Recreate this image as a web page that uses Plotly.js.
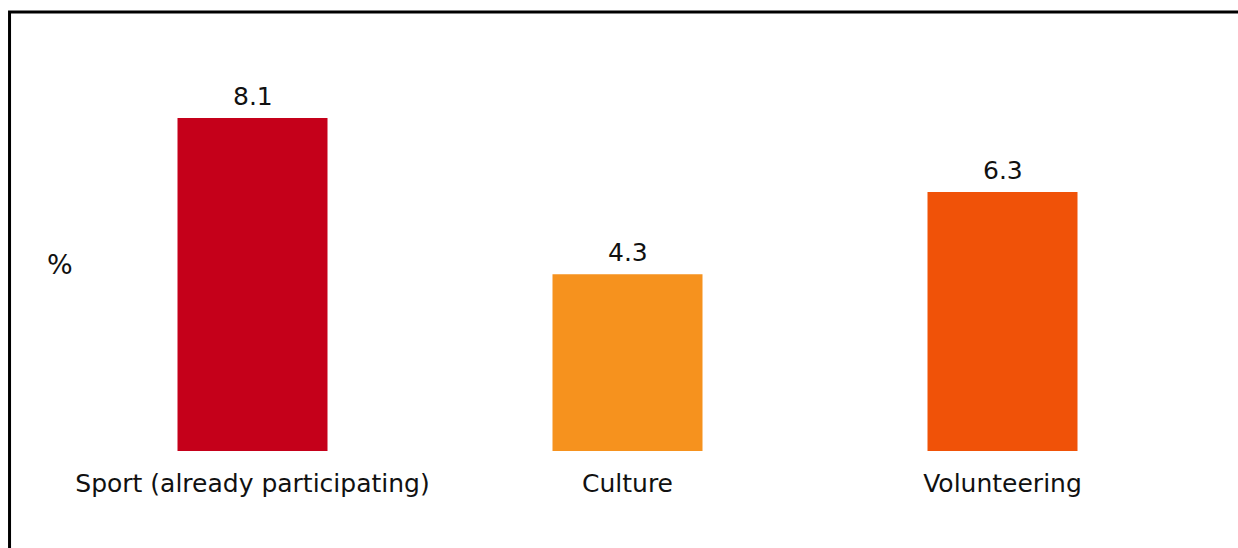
<!DOCTYPE html>
<html>
<head>
<meta charset="utf-8">
<script src="https://cdn.plot.ly/plotly-3.0.1.min.js"></script>
<style>html,body{margin:0;padding:0;background:#fff;}#chart{width:1238px;height:548px;}</style>
</head>
<body>
<div id="chart"></div>
<script>
const categories = ["Sport (already participating)", "Culture", "Volunteering"];
const values = [8.1, 4.3, 6.3];
const valueLabels = ["8.1", "4.3", "6.3"];
const barColors = ["#C5001A", "#F6921E", "#F05208"];
const yAxisLabel = "%";

const FONT = "DejaVu Sans, Verdana, sans-serif";
const TXT = "#111";

const trace = {
  type: "bar",
  x: categories,
  y: values,
  marker: {color: barColors, line: {width: 0}},
  hoverinfo: "skip"
};

const valueAnnotations = categories.map((c, i) => ({
  x: c, y: values[i], xref: "x", yref: "y",
  text: valueLabels[i],
  showarrow: false,
  xanchor: "center", yanchor: "bottom",
  yshift: 5,
  font: {family: FONT, size: 25, color: TXT}
}));

const layout = {
  width: 1238,
  height: 548,
  margin: {l: 65, r: 48, t: 48, b: 97},
  paper_bgcolor: "#fff",
  plot_bgcolor: "#fff",
  showlegend: false,
  bargap: 0.6,
  font: {family: FONT, size: 25, color: TXT},
  xaxis: {
    type: "category",
    showgrid: false, zeroline: false, showline: false,
    ticks: "",
    ticklabelstandoff: 15,
    tickfont: {family: FONT, size: 25, color: TXT},
    fixedrange: true
  },
  yaxis: {
    range: [0, 9.8],
    showgrid: false, zeroline: false, showline: false,
    showticklabels: false, ticks: "",
    fixedrange: true
  },
  annotations: valueAnnotations.concat([{
    text: yAxisLabel,
    xref: "paper", yref: "paper",
    x: -0.0044, y: 0.462,
    xanchor: "center", yanchor: "middle",
    showarrow: false,
    font: {family: FONT, size: 27, color: TXT}
  }]),
  shapes: [{
    type: "rect",
    xref: "paper", yref: "paper",
    x0: -0.0493, x1: 1.2,
    y0: -0.5, y1: 1.0893,
    line: {color: "#000", width: 3},
    fillcolor: "rgba(0,0,0,0)",
    layer: "above"
  }]
};

Plotly.newPlot("chart", [trace], layout, {displayModeBar: false, staticPlot: true});
</script>
</body>
</html>
